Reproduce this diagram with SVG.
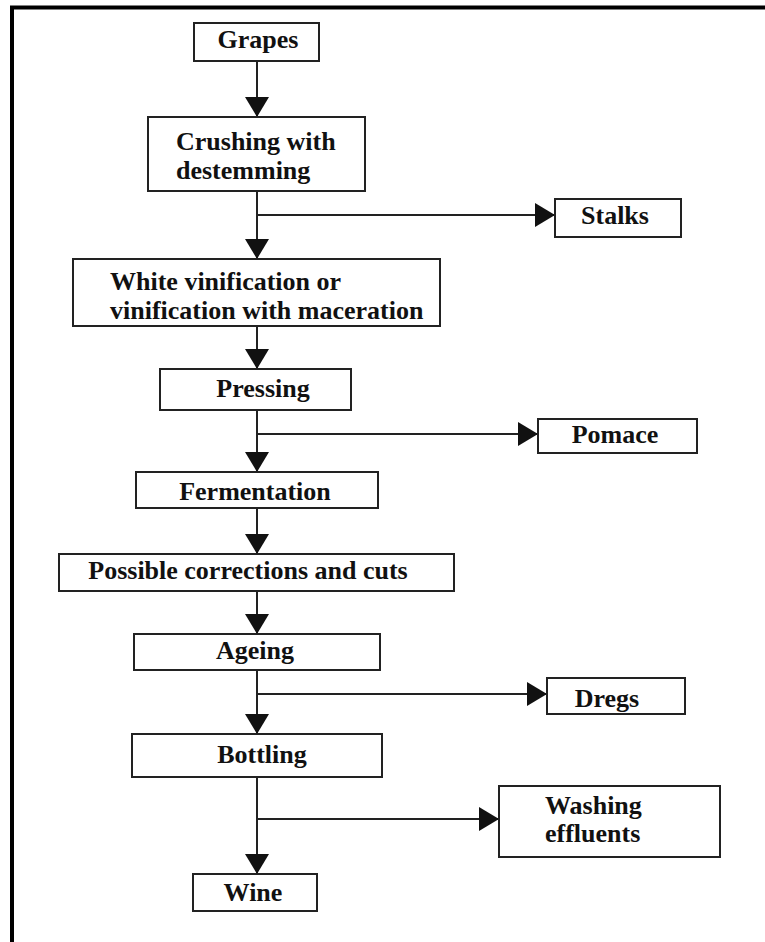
<svg xmlns="http://www.w3.org/2000/svg" width="765" height="942" viewBox="0 0 765 942">
<style>
.box{fill:#fff;stroke:#222;stroke-width:2}
.t{font-family:"Liberation Serif","Times New Roman",serif;font-weight:bold;font-size:26px;fill:#111}
.c{text-anchor:middle}
.ln{fill:none;stroke:#222;stroke-width:2}
</style>
<defs>
<marker id="ah" markerUnits="userSpaceOnUse" markerWidth="20" markerHeight="24" refX="20" refY="12" orient="auto" viewBox="0 0 20 24">
<path d="M0,0 L20,12 L0,24 z" fill="#111"/>
</marker>
</defs>
<rect width="765" height="942" fill="#fff"/>
<path d="M12,942 V7.5 H765" fill="none" stroke="#000" stroke-width="4"/>
<g id="connectors">
<line class="ln" x1="257" y1="61" x2="257" y2="117" marker-end="url(#ah)"/>
<line class="ln" x1="257" y1="191" x2="257" y2="259" marker-end="url(#ah)"/>
<line class="ln" x1="257" y1="215" x2="555" y2="215" marker-end="url(#ah)"/>
<line class="ln" x1="257" y1="326" x2="257" y2="369" marker-end="url(#ah)"/>
<line class="ln" x1="257" y1="410" x2="257" y2="472" marker-end="url(#ah)"/>
<line class="ln" x1="257" y1="434" x2="538" y2="434" marker-end="url(#ah)"/>
<line class="ln" x1="257" y1="508" x2="257" y2="554" marker-end="url(#ah)"/>
<line class="ln" x1="257" y1="591" x2="257" y2="634" marker-end="url(#ah)"/>
<line class="ln" x1="257" y1="670" x2="257" y2="734" marker-end="url(#ah)"/>
<line class="ln" x1="257" y1="694" x2="547" y2="694" marker-end="url(#ah)"/>
<line class="ln" x1="257" y1="777" x2="257" y2="874" marker-end="url(#ah)"/>
<line class="ln" x1="257" y1="819" x2="499" y2="819" marker-end="url(#ah)"/>
</g>
<g id="grapes"><rect class="box" x="194" y="23" width="125" height="38"/><text class="t c" x="258" y="48">Grapes</text></g>
<g id="crushing"><rect class="box" x="148" y="117" width="217" height="74"/><text class="t" x="176" y="150">Crushing with</text><text class="t" x="176" y="179">destemming</text></g>
<g id="stalks"><rect class="box" x="555" y="199" width="126" height="38"/><text class="t c" x="615" y="224">Stalks</text></g>
<g id="vinification"><rect class="box" x="73" y="259" width="367" height="67"/><text class="t" x="110" y="290">White vinification or</text><text class="t" x="110" y="319">vinification with maceration</text></g>
<g id="pressing"><rect class="box" x="160" y="369" width="191" height="41"/><text class="t c" x="263" y="397">Pressing</text></g>
<g id="pomace"><rect class="box" x="538" y="419" width="159" height="34"/><text class="t c" x="615" y="443">Pomace</text></g>
<g id="fermentation"><rect class="box" x="136" y="472" width="242" height="36"/><text class="t c" x="255" y="500">Fermentation</text></g>
<g id="corrections"><rect class="box" x="59" y="554" width="395" height="37"/><text class="t c" x="248" y="579">Possible corrections and cuts</text></g>
<g id="ageing"><rect class="box" x="134" y="634" width="246" height="36"/><text class="t c" x="255" y="659">Ageing</text></g>
<g id="dregs"><rect class="box" x="547" y="678" width="138" height="36"/><text class="t c" x="607" y="707">Dregs</text></g>
<g id="bottling"><rect class="box" x="132" y="734" width="250" height="43"/><text class="t c" x="262" y="763">Bottling</text></g>
<g id="washing"><rect class="box" x="499" y="786" width="221" height="71"/><text class="t" x="545" y="814">Washing</text><text class="t" x="545" y="842">effluents</text></g>
<g id="wine"><rect class="box" x="193" y="874" width="124" height="37"/><text class="t c" x="253" y="901">Wine</text></g>
</svg>
